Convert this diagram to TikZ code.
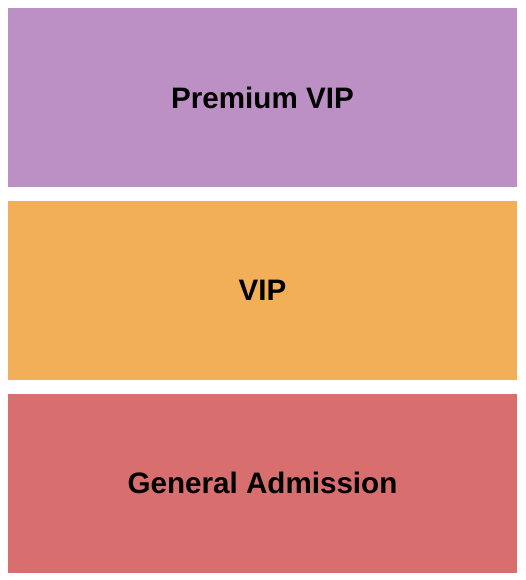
\documentclass[tikz,border=0pt]{standalone}
\usepackage{fontspec}
\setmainfont{Liberation Sans}
\usetikzlibrary{positioning}
\definecolor{premcol}{RGB}{188,144,196}
\definecolor{vipcol}{RGB}{243,174,88}
\definecolor{gacol}{RGB}{216,110,110}
\begin{document}
\begin{tikzpicture}[x=1pt,y=-1pt,node distance=13.5pt,
  zone/.style={rectangle,inner sep=0pt,minimum width=509pt,minimum height=179pt,
    font=\fontsize{29.6}{34}\selectfont\bfseries}]

  \useasboundingbox[fill=white] (0,0) rectangle (525,580);
  \node[zone,fill=premcol] (prem) at (262.5,97.5) {Premium VIP};
  \node[zone,fill=vipcol] (vip) [below=of prem] {VIP};
  \node[zone,fill=gacol] (ga) [below=of vip] {General Admission};
\end{tikzpicture}
\end{document}
